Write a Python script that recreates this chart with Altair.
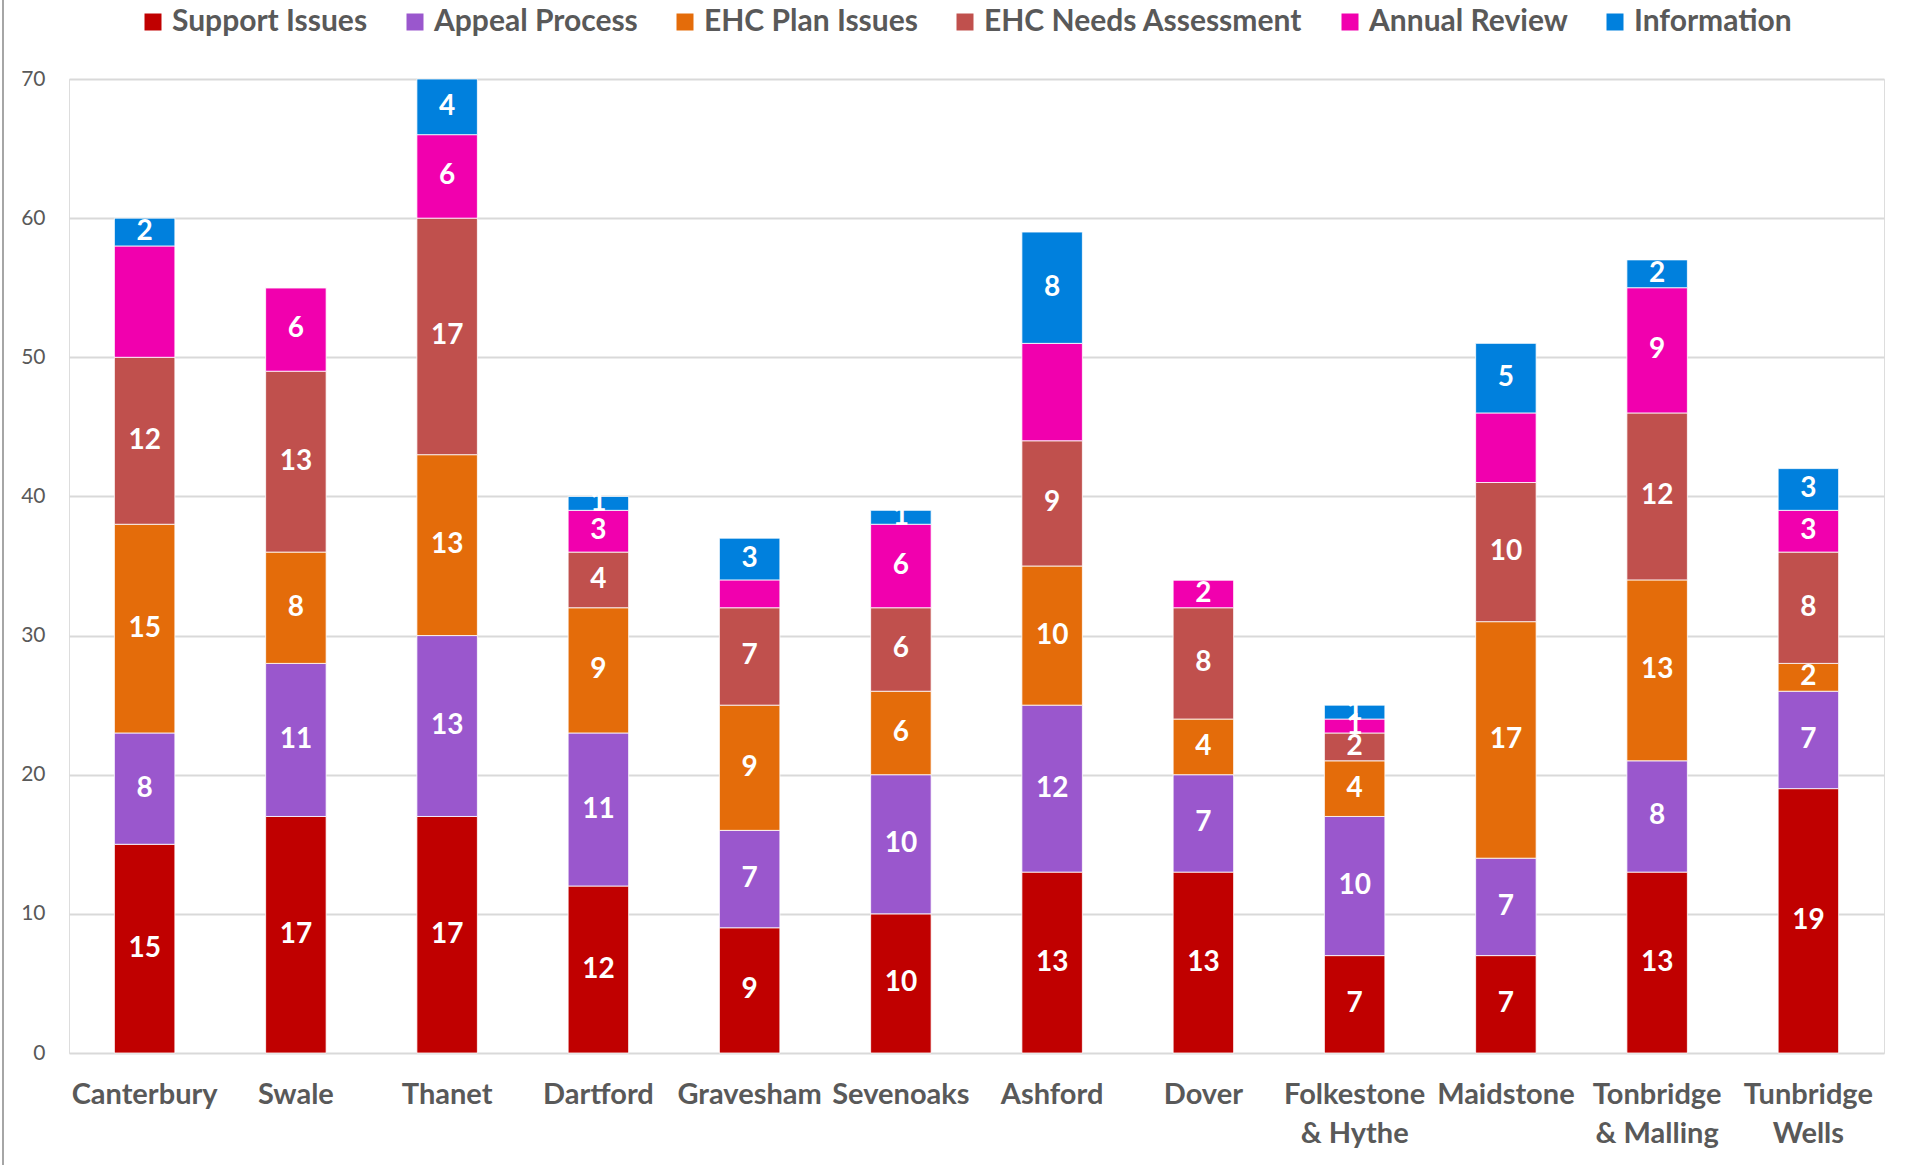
import altair as alt
import pandas as pd

# Kent districts and the six enquiry categories (stacked bottom to top)
districts = [
    "Canterbury", "Swale", "Thanet", "Dartford", "Gravesham", "Sevenoaks",
    "Ashford", "Dover", "Folkestone & Hythe", "Maidstone",
    "Tonbridge & Malling", "Tunbridge Wells",
]
categories = [
    "Support Issues", "Appeal Process", "EHC Plan Issues",
    "EHC Needs Assessment", "Annual Review", "Information",
]
colors = ["#C00000", "#9A57CD", "#E46C0A", "#C0504D", "#F100AE", "#0080DD"]

support_issues = [15, 17, 17, 12, 9, 10, 13, 13, 7, 7, 13, 19]
appeal_process = [8, 11, 13, 11, 7, 10, 12, 7, 10, 7, 8, 7]
ehc_plan_issues = [15, 8, 13, 9, 9, 6, 10, 4, 4, 17, 13, 2]
ehc_needs_assessment = [12, 13, 17, 4, 7, 6, 9, 8, 2, 10, 12, 8]
annual_review = [8, 6, 6, 3, 2, 6, 7, 2, 1, 5, 9, 3]
information = [2, 0, 4, 1, 3, 1, 8, 0, 1, 5, 2, 3]

# segments whose value label is not shown
unlabelled = [
    ("Canterbury", "Annual Review"),
    ("Gravesham", "Annual Review"),
    ("Ashford", "Annual Review"),
    ("Maidstone", "Annual Review"),
]

series = [support_issues, appeal_process, ehc_plan_issues,
          ehc_needs_assessment, annual_review, information]

rows = []
for ci, (cat, vals) in enumerate(zip(categories, series)):
    for d, v in zip(districts, vals):
        rows.append({
            "district": d,
            "category": cat,
            "order": ci,
            "value": v,
            "show": 0 if (d, cat) in unlabelled else 1,
        })
df = pd.DataFrame(rows)

FONT = "Lato"
GREY = "#595959"
W, H = 1815, 974

x_enc = alt.X(
    "district:N",
    sort=districts,
    scale=alt.Scale(paddingInner=0.6, paddingOuter=0.3),
    axis=alt.Axis(
        title=None, labelAngle=0, domain=False, ticks=False,
        labelFont=FONT, labelFontSize=29, labelFontWeight="bold",
        labelColor=GREY, labelPadding=27, labelLineHeight=39,
        labelBaseline="top",
        labelExpr="datum.label == 'Tunbridge Wells' ? ['Tunbridge', 'Wells'] : split(replace(datum.label, ' & ', '|& '), '|')",
    ),
)

base = alt.Chart(df).transform_stack(
    stack="value",
    groupby=["district"],
    sort=[alt.SortField("order", order="ascending")],
    as_=["v0", "v1"],
).transform_calculate(mid="(datum.v0 + datum.v1) / 2")

bars = base.mark_bar(stroke="white", strokeWidth=0.8).encode(
    x=x_enc,
    y=alt.Y(
        "v1:Q",
        scale=alt.Scale(domain=[0, 70], nice=False),
        axis=alt.Axis(
            title=None, values=[0, 10, 20, 30, 40, 50, 60, 70],
            domain=False, ticks=False, grid=True,
            gridColor="#D9D9D9", gridWidth=2,
            labelFont=FONT, labelFontSize=21, labelColor=GREY,
            labelPadding=24,
        ),
    ),
    y2="v0:Q",
    color=alt.Color(
        "category:N",
        sort=categories,
        scale=alt.Scale(domain=categories, range=colors),
        legend=alt.Legend(
            title=None, orient="none", direction="horizontal",
            legendX=69, legendY=-72,
            symbolType="square", symbolSize=289, symbolStrokeWidth=0,
            symbolOpacity=1,
            labelFont=FONT, labelFontSize=30, labelFontWeight="bold",
            labelColor=GREY, labelOffset=4, columnPadding=32,
            labelLimit=400,
        ),
    ),
    order=alt.Order("order:Q"),
)

labels = base.transform_filter(
    "datum.value > 0 && datum.show == 1"
).mark_text(
    font=FONT, fontSize=28, fontWeight="bold", color="white",
    baseline="middle", align="center",
).encode(
    x=alt.X("district:N", sort=districts),
    y=alt.Y("mid:Q"),
    text=alt.Text("value:Q"),
)

# thin frame line on the left edge of the chart
edge = alt.Chart(pd.DataFrame({"k": [0]})).mark_rule(
    color="#A6A6A6", strokeWidth=2
).encode(
    x=alt.value(-66), y=alt.value(-79), y2=alt.value(H + 112),
)

chart = alt.layer(bars, labels, edge).properties(
    width=W,
    height=H,
    padding={"left": 69, "top": 79, "right": 22, "bottom": 112},
    autosize=alt.AutoSizeParams(type="none"),
).configure_view(stroke=None).configure(background="white")

chart.save("out.html", embed_options={"renderer": "svg", "actions": False})
